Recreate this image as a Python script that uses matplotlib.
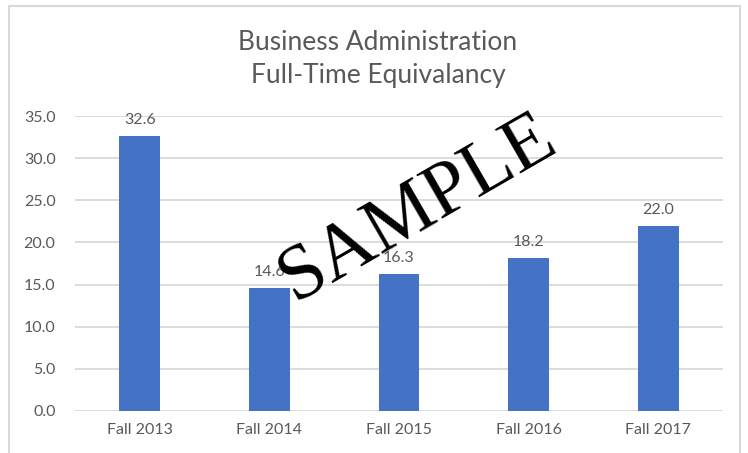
import matplotlib
matplotlib.use("Agg")
import matplotlib.pyplot as plt
from matplotlib.patches import Rectangle

categories = ["Fall 2013", "Fall 2014", "Fall 2015", "Fall 2016", "Fall 2017"]
values = [32.6, 14.6, 16.3, 18.2, 22.0]
yticks = [0, 5, 10, 15, 20, 25, 30, 35]

plt.rcParams['font.family'] = ['Lato', 'DejaVu Sans']

fig = plt.figure(figsize=(7.48, 4.53), dpi=100)
fig.patch.set_facecolor('white')

# outer frame
fig.patches.append(Rectangle((9/748, -0.05), (740-9)/748, 1.05 - 6/453,
                             transform=fig.transFigure, fill=False,
                             edgecolor='#d9d9d9', linewidth=1.5))

ax = fig.add_axes([75/748, (453-411)/453, (723-75)/748, (411-116)/453])
x = range(len(categories))
bars = ax.bar(x, values, width=0.316, color='#4472C4', zorder=2)
ax.set_xlim(-0.5, len(categories) - 0.5)
ax.set_ylim(0, 35)
ax.set_yticks(yticks)
ax.set_yticklabels([f"{v:.1f}" for v in yticks])
ax.set_xticks(list(x))
ax.set_xticklabels(categories)
ax.tick_params(axis='both', length=0, labelsize=11.5, colors='#595959')
ax.tick_params(axis='y', pad=14)
ax.tick_params(axis='x', pad=9)
ax.grid(axis='y', color='#d9d9d9', linewidth=1.3, zorder=0)
ax.set_axisbelow(True)
for s in ax.spines.values():
    s.set_visible(False)

for xi, v in zip(x, values):
    ax.annotate(f"{v:.1f}", (xi, v), xytext=(0, 6.5), textcoords='offset points',
                ha='center', va='bottom', fontsize=11.5, color='#595959',
                annotation_clip=False)

fig.text(378/748, 1 - 42/453, "Business Administration", ha='center', va='center',
         fontsize=19, color='#595959')
fig.text(378/748, 1 - 75/453, "Full-Time Equivalancy", ha='center', va='center',
         fontsize=19, color='#595959')

fig.text(418/748, 1 - 208/453, "SAMPLE", ha='center', va='center',
         rotation=30, rotation_mode='anchor', fontsize=56, color='black',
         family=['Liberation Serif', 'DejaVu Serif'], zorder=10)

fig.savefig("out.png", dpi=100, facecolor='white')
